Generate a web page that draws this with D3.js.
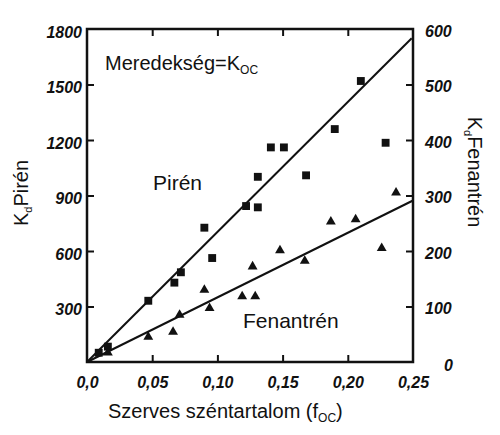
<!DOCTYPE html>
<html>
<head>
<meta charset="utf-8">
<script src="https://cdn.jsdelivr.net/npm/d3@7"></script>
<style>
  body { margin: 0; background: #fff; }
  text { font-family: Arial, "Liberation Sans", sans-serif; }
</style>
</head>
<body>
<div id="chart"></div>
<script>
'use strict'

// Pirén (left axis, squares)
const pirenX = [0.009, 0.016, 0.047, 0.067, 0.072, 0.090, 0.096, 0.122, 0.131, 0.131, 0.141, 0.151, 0.168, 0.190, 0.210, 0.229]
const pirenY = [50, 83, 331, 429, 485, 726, 562, 843, 836, 1001, 1160, 1160, 1009, 1259, 1519, 1185]
// Fenantrén (right axis, triangles)
const fenX = [0.016, 0.047, 0.066, 0.071, 0.090, 0.094, 0.119, 0.127, 0.129, 0.148, 0.167, 0.187, 0.206, 0.226, 0.237]
const fenY = [17, 45, 54, 85, 130, 97, 118, 172, 118, 201, 182, 253, 257, 205, 305]
// fitted lines
const pirenLineX = [0, 0.249]
const pirenLineY = [0, 1750]
const fenLineX = [0, 0.25]
const fenLineY = [0, 291]
// ticks
const xTicks = [0, 0.05, 0.10, 0.15, 0.20, 0.25]
const leftTicks = [300, 600, 900, 1200, 1500, 1800]
const rightTicks = [0, 100, 200, 300, 400, 500, 600]

const width = 500,
  height = 435
const pLeft = 87, pRight = 413, pTop = 29, pBottom = 362

let svg = d3.select('#chart')
  .append('svg')
  .attr('width', width)
  .attr('height', height)

const x = d3.scaleLinear().domain([0, 0.25]).range([pLeft, pRight])
const yL = d3.scaleLinear().domain([0, 1800]).range([pBottom, pTop])
const yR = d3.scaleLinear().domain([0, 600]).range([pBottom, pTop])

const comma = (d) => d === 0 ? '0,0' : d3.format('.2f')(d).replace('.', ',')
const plain = d3.format('d')

// axes, ticks pointing inward
const tickStyle = (g) => {
  g.select('.domain').remove()
  g.selectAll('line').attr('stroke', '#111').attr('stroke-width', 2)
  g.selectAll('text')
    .attr('fill', '#111')
    .style('font-size', '16px')
    .style('font-weight', 'bold')
    .style('font-style', 'italic')
}

svg.append('g')
  .attr('transform', `translate(0,${pBottom})`)
  .call(d3.axisBottom(x).tickValues(xTicks).tickSize(-7).tickPadding(15).tickFormat(comma))
  .call(tickStyle)
  .call(g => g.selectAll('.tick').filter(d => d === 0 || d === 0.25).select('line').remove())

svg.append('g')
  .attr('transform', `translate(0,${pTop})`)
  .call(d3.axisTop(x).tickValues(xTicks.slice(1, 5)).tickSize(-7).tickFormat(''))
  .call(tickStyle)

svg.append('g')
  .attr('transform', `translate(${pLeft},0)`)
  .call(d3.axisLeft(yL).tickValues(leftTicks).tickSize(-7).tickPadding(5).tickFormat(plain))
  .call(tickStyle)
  .call(g => g.selectAll('text').attr('dy', '0.5em'))
  .call(g => g.selectAll('.tick').filter(d => d === 1800).select('line').remove())

svg.append('g')
  .attr('transform', `translate(${pRight},0)`)
  .call(d3.axisRight(yR).tickValues(rightTicks).tickSize(-7).tickPadding(12).tickFormat(plain))
  .call(tickStyle)
  .call(g => g.selectAll('text').attr('dy', '0.45em'))
  .call(g => g.selectAll('.tick').filter(d => d === 0 || d === 600).select('line').remove())
  .call(g => g.selectAll('.tick').filter(d => d === 0).select('text').attr('x', 31).attr('dy', '0.55em'))

// frame
svg.append('rect')
  .attr('x', pLeft).attr('y', pTop)
  .attr('width', pRight - pLeft).attr('height', pBottom - pTop)
  .attr('fill', 'none').attr('stroke', '#111').attr('stroke-width', 2.5)

// fitted lines
const lineL = d3.line().x(d => x(d[0])).y(d => yL(d[1]))
const lineR = d3.line().x(d => x(d[0])).y(d => yR(d[1]))
svg.append('path')
  .attr('d', lineL(d3.zip(pirenLineX, pirenLineY)))
  .attr('stroke', '#111').attr('stroke-width', 2).attr('fill', 'none')
svg.append('path')
  .attr('d', lineR(d3.zip(fenLineX, fenLineY)))
  .attr('stroke', '#111').attr('stroke-width', 2).attr('fill', 'none')

// points
svg.append('g').selectAll('path')
  .data(d3.zip(pirenX, pirenY))
  .enter()
  .append('path')
  .attr('d', d3.symbol(d3.symbolSquare, 62))
  .attr('transform', d => `translate(${x(d[0])},${yL(d[1])})`)
  .attr('fill', '#111')

svg.append('g').selectAll('path')
  .data(d3.zip(fenX, fenY))
  .enter()
  .append('path')
  .attr('d', d3.symbol(d3.symbolTriangle, 42))
  .attr('transform', d => `translate(${x(d[0])},${yR(d[1])})`)
  .attr('fill', '#111')

// labels
let t = svg.append('text').attr('x', 105).attr('y', 70).style('font-size', '20px').attr('fill', '#111')
t.append('tspan').text('Meredekség=K')
t.append('tspan').text('OC').style('font-size', '12px').attr('dy', 4)

svg.append('text').attr('x', 153).attr('y', 190).style('font-size', '21px').attr('fill', '#111').text('Pirén')
svg.append('text').attr('x', 243).attr('y', 328).style('font-size', '21px').attr('fill', '#111').text('Fenantrén')

// axis titles
let xt = svg.append('text').attr('x', 108).attr('y', 418).style('font-size', '20px').attr('fill', '#111')
xt.append('tspan').text('Szerves széntartalom (f')
xt.append('tspan').text('OC').style('font-size', '12px').attr('dy', 4)
xt.append('tspan').text(')').attr('dy', -4)

let lt = svg.append('text')
  .attr('transform', 'translate(28,193) rotate(-90)')
  .attr('text-anchor', 'middle')
  .style('font-size', '20px').attr('fill', '#111')
lt.append('tspan').text('K')
lt.append('tspan').text('d').style('font-size', '11px').attr('dy', 4)
lt.append('tspan').text('Pirén').attr('dy', -4)

let rt = svg.append('text')
  .attr('transform', 'translate(468,172) rotate(90)')
  .attr('text-anchor', 'middle')
  .style('font-size', '20px').attr('fill', '#111')
rt.append('tspan').text('K')
rt.append('tspan').text('d').style('font-size', '11px').attr('dy', 4)
rt.append('tspan').text('Fenantrén').attr('dy', -4)
</script>
</body>
</html>
